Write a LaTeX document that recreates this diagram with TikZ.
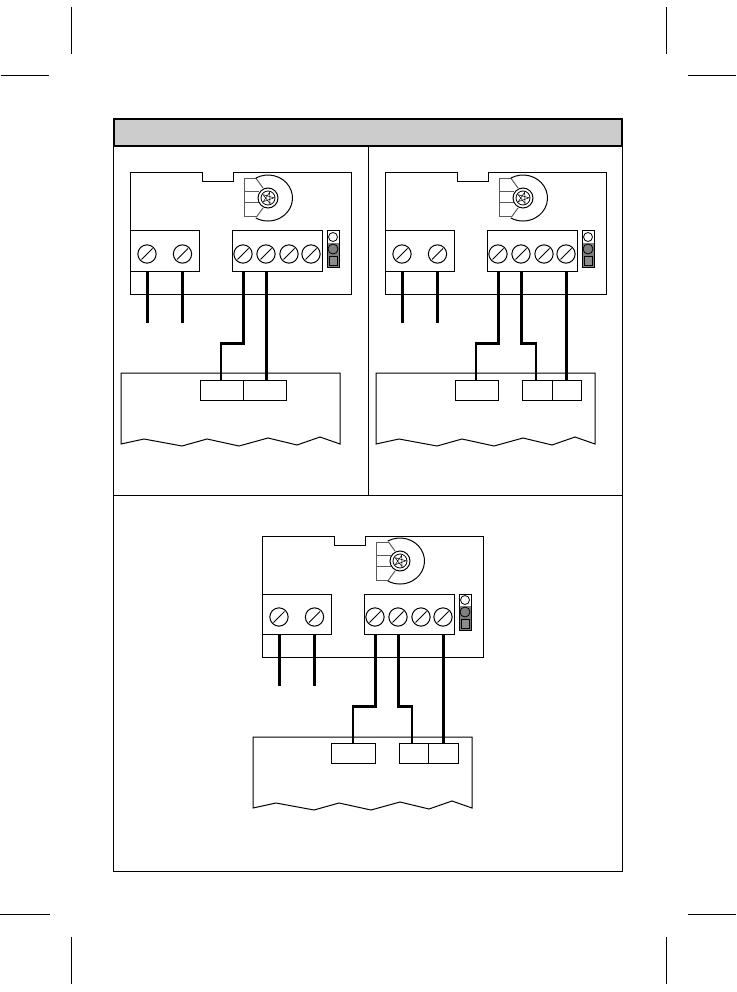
\documentclass[tikz,border=0pt]{standalone}
\usetikzlibrary{calc}
\tikzset{
 thinline/.style={draw=black,line width=1pt},
 headline/.style={draw=black,line width=2pt},
 wirebold/.style={draw=black,line width=3pt},
 wirethin/.style={draw=black,line width=2.6pt},
 screwstyle/.style={circle,draw=black,line width=1pt,minimum size=18.3pt,inner sep=0pt,outer sep=0pt,fill=white},
 potline/.style={draw=black!65,line width=1pt},
 termbox/.style={draw=black,line width=1pt,fill=white,inner sep=0pt,outer sep=0pt},
 slotbox/.style={draw=black,line width=1pt,fill=white,inner sep=0pt,outer sep=0pt,minimum height=20pt},
}
\newcommand{\screwat}[3]{% name, x, y
 \node[screwstyle] (#1) at (#2,#3) {};
 \draw[line width=1pt] ($(#2,#3)+(-5.5,5.5)$) -- ($(#2,#3)+(5.5,-5.5)$);
}
% prefix
\newcommand{\devicepanel}[1]{%
 \draw[thinline] (0,0) -- (72,0) -- (72,9) -- (103,9) -- (103,0) -- (221,0) -- (221,121) -- (0,121) -- cycle;
 % trimmer
 \draw[potline] (126.5,6) -- (114,6) -- (114,44) -- (126.5,44);
 \draw[potline] (114,19) -- (129,19) (114,30) -- (129,30);
 \draw[thinline] (125.75,5.1) arc[start angle=-120,end angle=120,x radius=24.5,y radius=23];
 \draw[potline] (126.5,6) -- (133,15) (126.5,44) -- (133,35);
 \draw[thinline,fill=white] (138,25) circle[radius=10];
 \draw[line width=0.8pt] (138,25) circle[radius=7];
 \begin{scope}[shift={(138,25)}]
  \draw[line width=0.5pt] (70:6) -- (214:6) -- (358:6) -- (142:6) -- (286:6) -- cycle;
 \end{scope}
 % terminal blocks
 \node[termbox,minimum width=69pt,minimum height=40pt] (#1tl) at (34.5,78) {};
 \node[termbox,minimum width=90pt,minimum height=40pt] (#1tr) at (147,78) {};
 \screwat{#1a}{17}{81}
 \screwat{#1b}{52.5}{81}
 \screwat{#1c}{113}{81}
 \screwat{#1d}{136}{81}
 \screwat{#1e}{159}{81}
 \screwat{#1f}{181}{81}
 % LED strip
 \fill[black!50] (197,70) rectangle (209,94);
 \node[draw=black,line width=1pt,minimum width=12pt,minimum height=36pt,inner sep=0pt,outer sep=0pt] (#1led) at (203,76) {};
 \draw[line width=0.8pt,fill=white] (203,64) circle[radius=4.5];
 \draw[line width=0.8pt,fill=black!50] (203,76) circle[radius=5];
 \draw[line width=0.8pt,fill=black!45] (199,83) rectangle (207,92);
 % supply wires
 \coordinate (#1sa) at (17,150);
 \coordinate (#1sb) at (52.5,150);
 \draw[wirebold] (#1a |- #1tl.south) -- (#1sa);
 \draw[wirebold] (#1b |- #1tl.south) -- (#1sb);
}
\newcommand{\lowerbox}{%
 \draw[line width=1pt] (0,71) -- (0,0) -- (219,0) -- (219,71) -- (199,64) -- (176,72) -- (147,65) -- (118,73) -- (86,66) -- (61,73) -- (23,66) -- cycle;
}
% prefix, screw, jog coordinate, slot node, overhang
\newcommand{\jogwire}[5]{%
 \draw[wirebold] (#2 |- #1tr.south) -- (#2 |- #3) -- ($(#3)+(#5,0)$);
 \draw[wirethin] ($(#3)+(0,-1.5)$) -- (#3 |- #4.north);
}
\newcommand{\straightwire}[3]{%
 \draw[wirebold] (#2 |- #1tr.south) -- (#2 |- #3.north);
}
\begin{document}
\begin{tikzpicture}[x=1pt,y=-1pt]
\useasboundingbox (0,0) rectangle (736,992);
\fill[white] (0,0) rectangle (736,992);
% crop marks
\draw[thinline] (71,7) -- (71,54) (666,7) -- (666,54) (1,76) -- (49,76) (688,76) -- (736,76);
\draw[thinline] (71,937) -- (71,984) (666,937) -- (666,984) (0,914) -- (50,914) (688,914) -- (736,914);
% frame
\draw[thinline] (113.5,146) -- (113.5,871.5) -- (622.5,871.5) -- (622.5,146);
\draw[thinline] (113.5,495) -- (622.5,495);
\draw[thinline] (368,146) -- (368,495);
\draw[headline,fill=black!20] (114,119) rectangle (622,146);

% ---- panel 1
\begin{scope}[shift={(130,173)}]\devicepanel{p}\end{scope}
\begin{scope}[shift={(121,373)}]\lowerbox\end{scope}
\node[slotbox,minimum width=43pt] (ps1) at (222,390) {};
\node[slotbox,minimum width=43pt] (ps2) at (265,390) {};
\coordinate (pj1) at (221,343);
\jogwire{p}{pc}{pj1}{ps1}{-1.3}
\straightwire{p}{pd}{ps2}

% ---- panel 2
\begin{scope}[shift={(385,173)}]\devicepanel{q}\end{scope}
\begin{scope}[shift={(376,373)}]\lowerbox\end{scope}
\node[slotbox,minimum width=43pt] (qs1) at (477,390) {};
\node[slotbox,minimum width=30pt] (qs2) at (537.5,390) {};
\node[slotbox,minimum width=29pt] (qs3) at (567,390) {};
\coordinate (qj1) at (476,343);
\coordinate (qj2) at (536,343);
\jogwire{q}{qc}{qj1}{qs1}{-1.3}
\jogwire{q}{qd}{qj2}{qs2}{1.3}
\straightwire{q}{qf}{qs3}

% ---- panel 3
\begin{scope}[shift={(262,536)}]\devicepanel{r}\end{scope}
\begin{scope}[shift={(253,737)}]\lowerbox\end{scope}
\node[slotbox,minimum width=44pt] (rs1) at (353.5,753.5) {};
\node[slotbox,minimum width=29pt] (rs2) at (414,753.5) {};
\node[slotbox,minimum width=30pt] (rs3) at (443,753.5) {};
\coordinate (rj1) at (353,706);
\coordinate (rj2) at (412,706);
\jogwire{r}{rc}{rj1}{rs1}{-1.3}
\jogwire{r}{rd}{rj2}{rs2}{1.3}
\straightwire{r}{rf}{rs3}
\end{tikzpicture}
\end{document}
